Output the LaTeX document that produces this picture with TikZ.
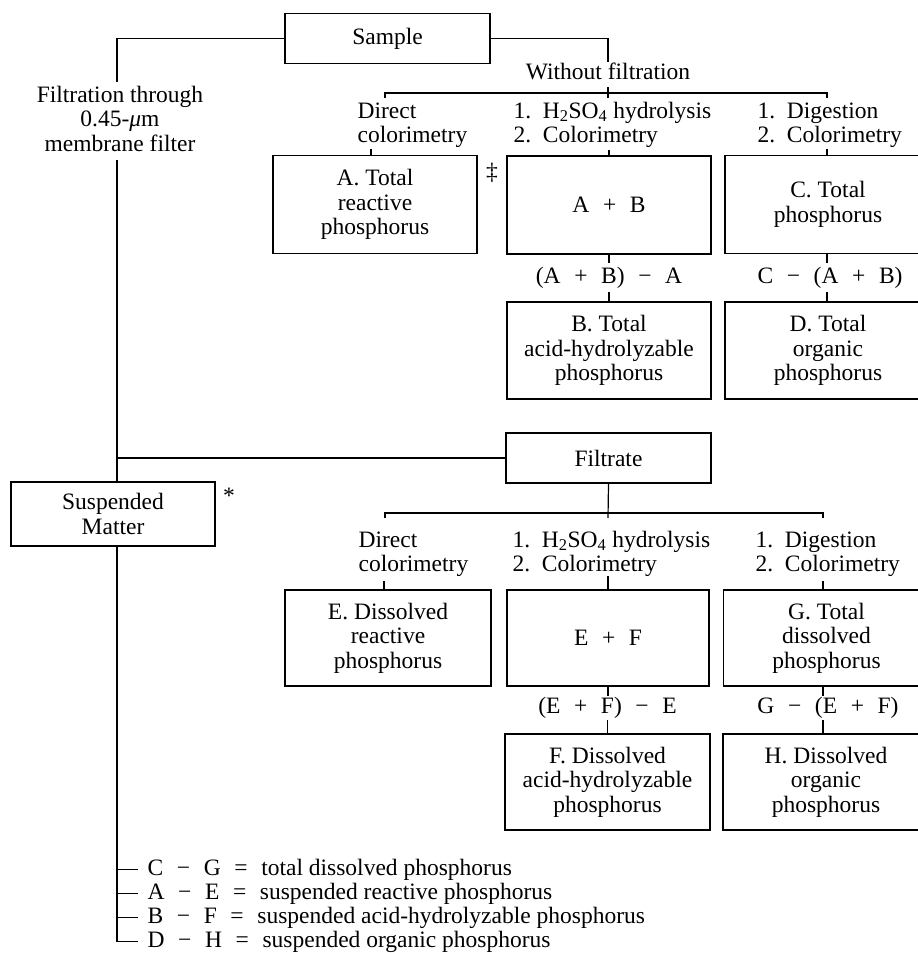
\documentclass[tikz,border=0pt]{standalone}
\usepackage{fontspec}
\setmainfont{Liberation Serif}
\newcommand\gp{\hspace{0.58em}}
\newcommand\lst[1]{\begin{tabular}[t]{@{}l@{}}#1\end{tabular}}
\newcommand\cst[1]{\begin{tabular}[t]{@{}c@{}}#1\end{tabular}}
\begin{document}
\begin{tikzpicture}[x=1pt,y=-1pt,line width=1.2pt,
  every node/.style={font=\fontsize{23.5}{24.5}\selectfont},
  box/.style={draw, align=center, inner sep=0pt, minimum width=204pt, minimum height=98pt},
  wbox/.style={box, minimum width=206pt},
  lbl/.style={anchor=base west, inner sep=0pt},
  clbl/.style={anchor=base, inner sep=0pt},
  frm/.style={inner sep=0pt}]
\useasboundingbox (0,0) rectangle (918,953);
\clip (0,0) rectangle (918,953);

% top level
\node[box, minimum width=205pt, minimum height=50pt] (sample) at (387.5,38.5) {Sample};
\node[clbl] (filt) at (120,102) {\cst{Filtration through\\0.45-{\itshape μ}m\\membrane filter}};
\node[clbl] (wof) at (608,79) {Without filtration};

% row 1 labels
\node[lbl] (dc1) at (357,118) {\lst{Direct\\colorimetry}};
\node[lbl] (hy1) at (513,118) {\lst{1.\enspace H\textsubscript{2}SO\textsubscript{4} hydrolysis\\2.\enspace Colorimetry}};
\node[lbl] (dg1) at (757,118) {\lst{1.\enspace Digestion\\2.\enspace Colorimetry}};

% row 1 boxes
\node[box] (A) at (375,204.5) {A. Total\\reactive\\phosphorus};
\node[box] (AB) at (609,205) {A\gp+\gp B};
\node[wbox] (C) at (828,204.5) {C. Total\\phosphorus};
\node[inner sep=0pt] (dag) at (492,173) {‡};
\node[frm] (f1) at (609,278) {(A\gp+\gp B)\gp−\gp A};
\node[frm] (f2) at (830,278) {C\gp−\gp(A\gp+\gp B)};
\node[box, minimum height=97pt] (B) at (609,350.5) {B. Total\\acid-hydrolyzable\\phosphorus};
\node[wbox, minimum height=97pt] (D) at (828,350.5) {D. Total\\organic\\phosphorus};

% filtrate
\node[box, minimum width=205pt, minimum height=50pt] (filtrate) at (608.5,458) {Filtrate};
\node[box, minimum height=64pt] (susp) at (113,514) {Suspended\\Matter};
\node[clbl] (ast) at (229,503) {*};

% row 2 labels
\node[lbl] (dc2) at (358,547) {\lst{Direct\\colorimetry}};
\node[lbl] (hy2) at (512,547) {\lst{1.\enspace H\textsubscript{2}SO\textsubscript{4} hydrolysis\\2.\enspace Colorimetry}};
\node[lbl] (dg2) at (755,547) {\lst{1.\enspace Digestion\\2.\enspace Colorimetry}};

% row 2 boxes
\node[wbox, minimum height=96pt] (E) at (388,638) {E. Dissolved\\reactive\\phosphorus};
\node[box, minimum width=202pt, minimum height=96pt] (EF) at (608,638) {E\gp+\gp F};
\node[wbox, minimum height=96pt] (G) at (826.5,638) {G. Total\\dissolved\\phosphorus};
\node[frm] (f3) at (607.5,708) {(E\gp+\gp F)\gp−\gp E};
\node[frm] (f4) at (828,708) {G\gp−\gp(E\gp+\gp F)};
\node[box, minimum width=205pt, minimum height=96pt] (F) at (607.5,782) {F. Dissolved\\acid-hydrolyzable\\phosphorus};
\node[wbox, minimum height=96pt] (H) at (826,782) {H. Dissolved\\organic\\phosphorus};

% bottom list
\node[lbl] (l1) at (147,875) {C\gp−\gp G\gp=\gp total dissolved phosphorus};
\node[lbl] (l2) at (147,899) {A\gp−\gp E\gp=\gp suspended reactive phosphorus};
\node[lbl] (l3) at (147,923) {B\gp−\gp F\gp=\gp suspended acid-hydrolyzable phosphorus};
\node[lbl] (l4) at (147,947) {D\gp−\gp H\gp=\gp suspended organic phosphorus};

% coordinates
\coordinate (t0) at (117,82);
\coordinate (t1) at (117,160);
\coordinate (wf) at (608,62);

% connectors: trunk
\draw (sample.west) -| (t0);
\draw (t1) -- (t1 |- susp.north);
\draw (filtrate.west) -- (filtrate.west -| t1);
\draw (t1 |- susp.south) -- (t1 |- l4.west) -- ([xshift=-9pt]l4.west);
\draw (t1 |- l1.west) -- ([xshift=-9pt]l1.west);
\draw (t1 |- l2.west) -- ([xshift=-9pt]l2.west);
\draw (t1 |- l3.west) -- ([xshift=-9pt]l3.west);

% without filtration branch
\draw (sample.east) -| (wf);
\draw (385,98) -- (385,93) -- (827,93) -- (827,98);
\draw (608,87) -- (608,98);
\draw ([xshift=-4pt]A.north) -- ++(0,-6);
\draw (AB.north) -- ++(0,-5);
\draw ([xshift=-1pt]C.north) -- ++(0,-6);
\draw (AB.south) -- ++(0,8);
\draw (B.north) -- ++(0,-9);
\draw ([xshift=-1pt]C.south) -- ++(0,9);
\draw ([xshift=-1pt]D.north) -- ++(0,-9);

% filtrate branch
\draw (filtrate.south) -- (608,518);
\draw (385,518) -- (385,513) -- (823,513) -- (823,518);
\draw ([xshift=-4pt]E.north) -- ++(0,-8);
\draw (EF.north) -- ++(0,-13);
\draw ([xshift=-3.5pt]G.north) -- ++(0,-8);
\draw (EF.south) -- ++(0,9);
\draw (F.north) -- ++(0,-13);
\draw ([xshift=-3.5pt]G.south) -- ++(0,9);
\draw ([xshift=-3pt]H.north) -- ++(0,-13);
\end{tikzpicture}
\end{document}
